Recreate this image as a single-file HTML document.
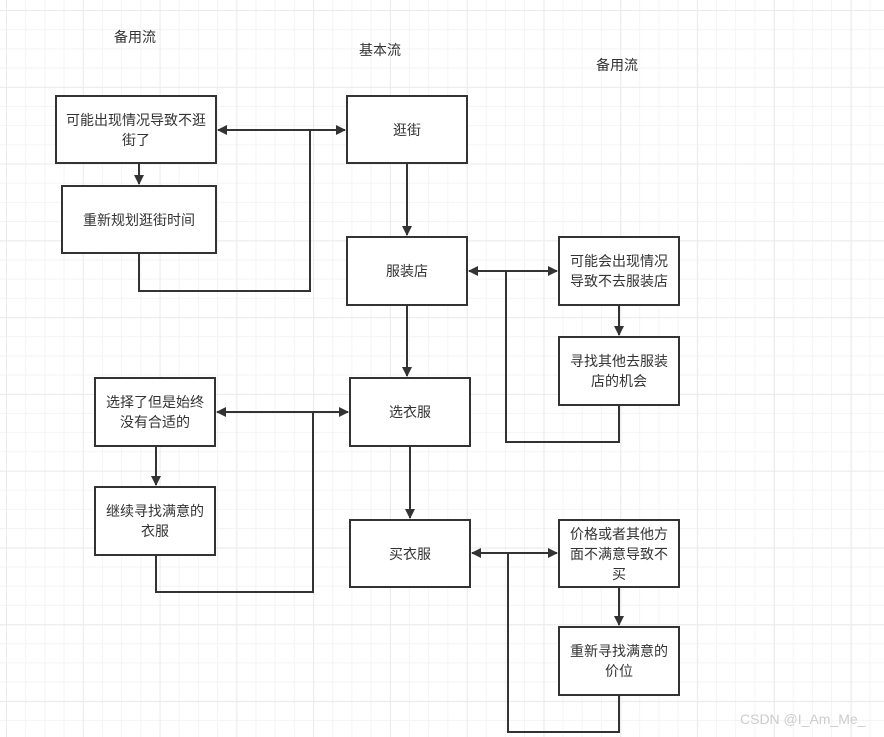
<!DOCTYPE html>
<html><head><meta charset="utf-8"><style>
html,body{margin:0;padding:0}
body{width:884px;height:737px;position:relative;overflow:hidden;background:#fff;
background-image:linear-gradient(#ebebeb 1px,transparent 1px),linear-gradient(90deg,#ebebeb 1px,transparent 1px),linear-gradient(#f4f4f4 1px,transparent 1px),linear-gradient(90deg,#f4f4f4 1px,transparent 1px);
background-size:76.8px 76.8px,76.8px 76.8px,19.2px 19.2px,19.2px 19.2px;
background-position:6px 10px,6px 10px,6px 10px,6px 10px;
font-family:"Liberation Sans","Noto Sans CJK SC",sans-serif;color:#333}
.b{position:absolute;box-sizing:border-box;border:2px solid #333;background:#fff;display:flex;align-items:center;justify-content:center;text-align:center;font-size:14px;line-height:20px;padding:0 8px}
.l{position:absolute;font-size:14px;transform:translateX(-50%)}
svg{position:absolute;left:0;top:0}
</style></head><body>
<div class="l" style="left:135px;top:27px">备用流</div>
<div class="l" style="left:380px;top:40px">基本流</div>
<div class="l" style="left:617px;top:55px">备用流</div>
<svg width="884" height="737">
<defs><marker id="a" markerWidth="10" markerHeight="10" refX="9" refY="5" orient="auto" markerUnits="userSpaceOnUse"><path d="M0,0 L10,5 L0,10 z" fill="#333"/></marker></defs>
<g stroke="#333" stroke-width="2" fill="none">
<line x1="310" y1="130" x2="218" y2="130" marker-end="url(#a)"/>
<line x1="310" y1="130" x2="345" y2="130" marker-end="url(#a)"/>
<polyline points="310,130 310,291 139,291 139,253"/>
<line x1="139" y1="163" x2="139" y2="184" marker-end="url(#a)"/>
<line x1="407" y1="163" x2="407" y2="235" marker-end="url(#a)"/>
<line x1="506" y1="271" x2="469" y2="271" marker-end="url(#a)"/>
<line x1="506" y1="271" x2="557" y2="271" marker-end="url(#a)"/>
<polyline points="506,271 506,442 619,442 619,405"/>
<line x1="619" y1="305" x2="619" y2="335" marker-end="url(#a)"/>
<line x1="407" y1="305" x2="407" y2="376" marker-end="url(#a)"/>
<line x1="313" y1="412" x2="217" y2="412" marker-end="url(#a)"/>
<line x1="313" y1="412" x2="348" y2="412" marker-end="url(#a)"/>
<polyline points="313,412 313,592 156,592 156,555"/>
<line x1="156" y1="446" x2="156" y2="485" marker-end="url(#a)"/>
<line x1="410" y1="446" x2="410" y2="518" marker-end="url(#a)"/>
<line x1="508" y1="553" x2="472" y2="553" marker-end="url(#a)"/>
<line x1="508" y1="553" x2="557" y2="553" marker-end="url(#a)"/>
<polyline points="508,553 508,732 619,732 619,695"/>
<line x1="619" y1="587" x2="619" y2="625" marker-end="url(#a)"/>
</g></svg>
<div class="b" style="left:55px;top:95px;width:162px;height:69px">可能出现情况导致不逛街了</div>
<div class="b" style="left:61px;top:185px;width:156px;height:69px">重新规划逛街时间</div>
<div class="b" style="left:346px;top:95px;width:122px;height:69px">逛街</div>
<div class="b" style="left:346px;top:236px;width:122px;height:70px">服装店</div>
<div class="b" style="left:558px;top:236px;width:122px;height:70px">可能会出现情况导致不去服装店</div>
<div class="b" style="left:558px;top:336px;width:122px;height:70px">寻找其他去服装店的机会</div>
<div class="b" style="left:94px;top:377px;width:122px;height:70px">选择了但是始终没有合适的</div>
<div class="b" style="left:349px;top:377px;width:122px;height:70px">选衣服</div>
<div class="b" style="left:94px;top:486px;width:122px;height:70px">继续寻找满意的衣服</div>
<div class="b" style="left:349px;top:519px;width:122px;height:69px">买衣服</div>
<div class="b" style="left:558px;top:519px;width:122px;height:69px">价格或者其他方面不满意导致不买</div>
<div class="b" style="left:558px;top:626px;width:122px;height:70px">重新寻找满意的价位</div>
<div style="position:absolute;left:740px;top:711px;font-size:14px;color:#ccc">CSDN @I_Am_Me_</div>
</body></html>
